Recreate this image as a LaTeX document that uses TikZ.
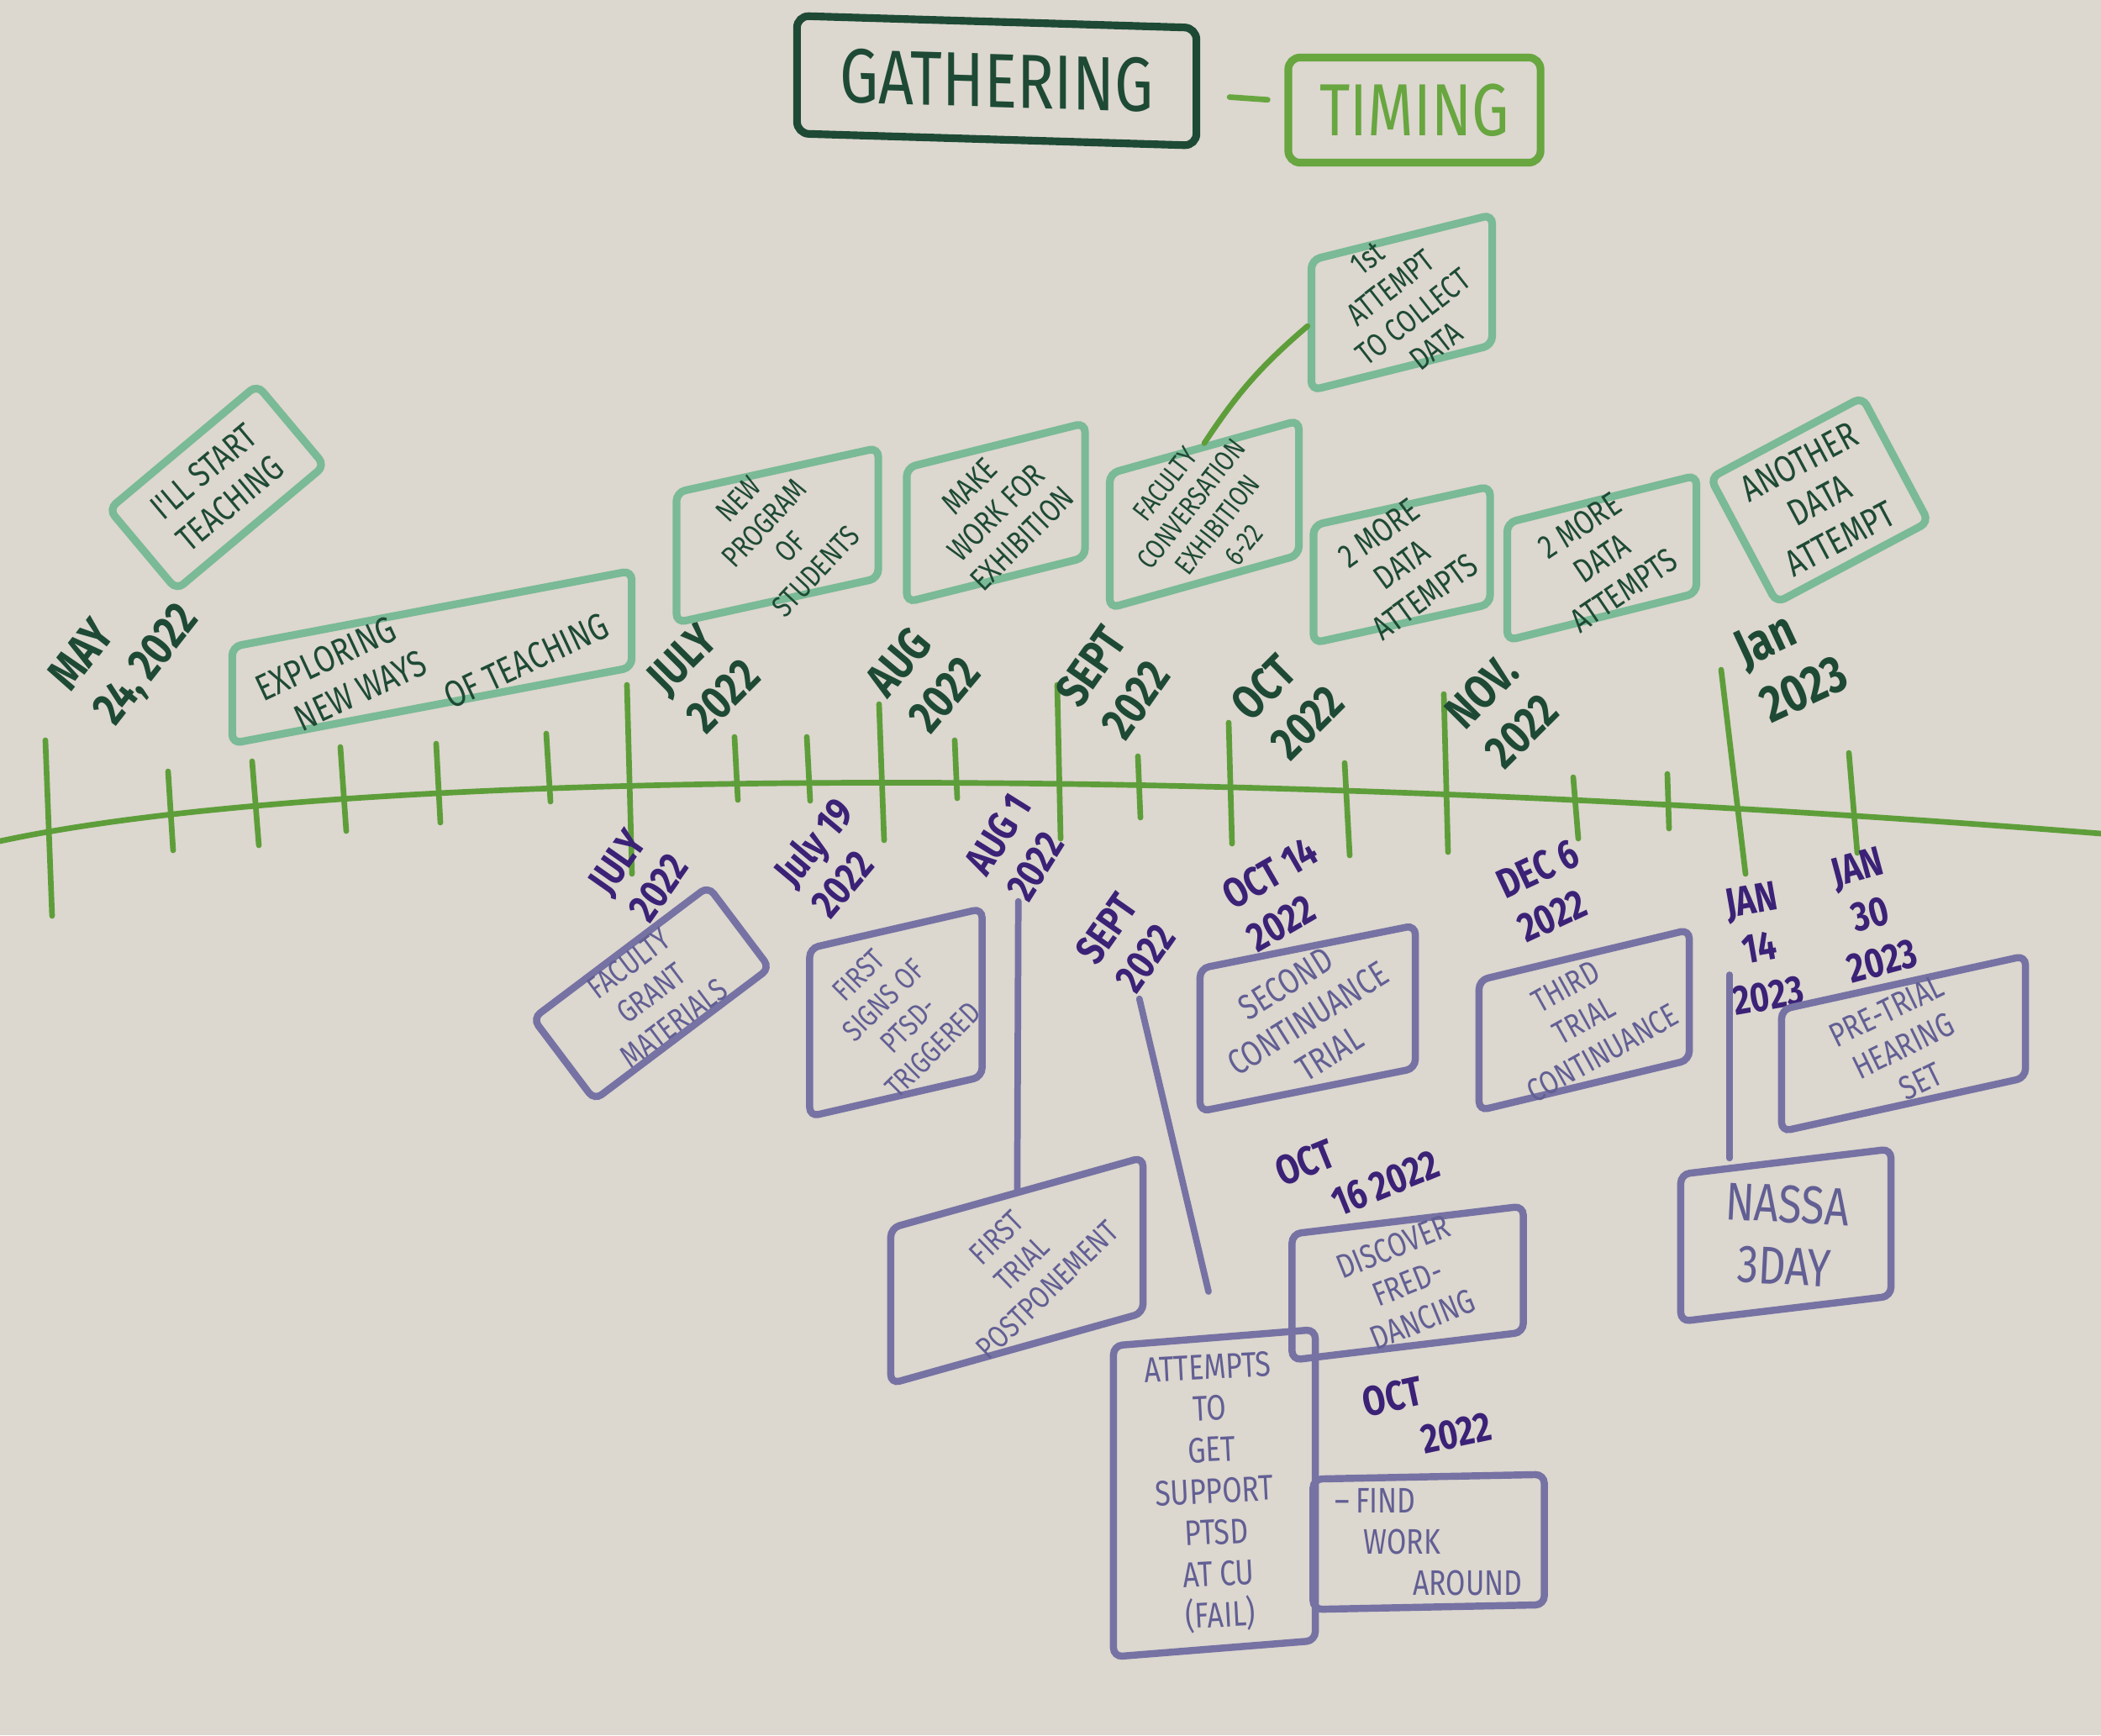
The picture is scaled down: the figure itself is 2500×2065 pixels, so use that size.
\documentclass[tikz,border=0pt]{standalone}
\usepackage{fontspec}
\usepackage{tikz}
\usetikzlibrary{positioning}
\newfontfamily\hand{Fira Sans}[FakeStretch=0.8]
\definecolor{paper}{RGB}{220,215,207}
\definecolor{ink}{RGB}{30,74,53}
\definecolor{mint}{RGB}{122,186,150}
\definecolor{stem}{RGB}{94,158,58}
\definecolor{sprout}{RGB}{104,166,64}
\definecolor{plum}{RGB}{59,34,119}
\definecolor{lilac}{RGB}{118,114,163}
\definecolor{lilacink}{RGB}{98,95,148}
\newcommand{\notefont}{\hand\fontsize{12}{14}\selectfont}
\newcommand{\datefont}{\hand\bfseries\fontsize{16}{19}\selectfont}
\newcommand{\smalldatefont}{\hand\bfseries\fontsize{14}{16.5}\selectfont}
\newcommand{\headfont}{\hand\fontsize{26}{26}\selectfont}
\tikzstyle{titlebox}  = [rectangle, line width=2.6pt, rounded corners=4pt, font=\headfont]
\tikzstyle{mintbox}   = [rectangle, draw=mint, line width=2.6pt, rounded corners=3pt]
\tikzstyle{lilacbox}  = [rectangle, draw=lilac, line width=2.4pt, rounded corners=3pt]
\tikzstyle{mintnote}  = [text=ink, font=\notefont, align=center, inner sep=0pt]
\tikzstyle{lilacnote} = [text=lilacink, font=\notefont, align=center, inner sep=0pt]
\tikzstyle{topdate}   = [text=ink, font=\datefont, align=left, inner sep=1pt]
\tikzstyle{botdate}   = [text=plum, font=\smalldatefont, align=left, inner sep=1pt]
\tikzstyle{tick}      = [draw=stem, line width=1.9pt, line cap=round]
\tikzstyle{mintlink}  = [draw=stem, line width=1.9pt, line cap=round]
\tikzstyle{lilaclink} = [draw=lilac, line width=2.2pt, line cap=round]

\begin{document}
\begin{tikzpicture}[x=0.01cm, y=-0.01cm]

\fill [paper] (0,0) rectangle (2500,2065);
\useasboundingbox (0,0) rectangle (2500,2065);

\node (gather) [titlebox, draw=ink, text=ink, minimum width=4.75cm, minimum height=1.4cm, yslant=-0.03] at (1186,96) {GATHERING};
\node (timing) [titlebox, draw=sprout, text=sprout, minimum width=3cm, minimum height=1.25cm, font=\hand\fontsize{25}{25}\selectfont] at (1683,131) {TIMING};
\draw [tick, draw=sprout, shorten <=0.35cm, shorten >=0.2cm] (gather) -- (timing);

\draw [tick] (0,1001) .. controls (400,915) and (1400,905) .. (2500,992);
\foreach \xa/\ya/\xb/\yb in {54/881/62/1090, 200/918/206/1012, 300/906/308/1006, 405/889/412/989,
    519/885/524/979, 650/873/655/954, 746/815/752/1040, 874/877/878/952, 960/877/964/953,
    1046/838/1052/1000, 1136/881/1139/950, 1258/815/1262/998, 1354/900/1357/973,
    1462/860/1466/1004, 1600/908/1606/1018, 1718/826/1723/1014, 1872/925/1878/998,
    1984/921/1986/986, 2048/797/2077/1040, 2200/896/2210/1015}
  \draw [tick] (\xa,\ya) -- (\xb,\yb);

\node (mayTop)  [topdate, rotate=52] at (150,772)  {MAY\\24,\,2022};
\node (julyTop) [topdate, rotate=45] at (837,805)  {JULY\\2022};
\node (augTop)  [topdate, rotate=50] at (1098,805) {AUG\\2022};
\node (septTop) [topdate, rotate=55] at (1325,812) {SEPT\\2022};
\node (octTop)  [topdate, rotate=45] at (1532,836) {OCT\\2022};
\node (novTop)  [topdate, rotate=45] at (1787,846) {NOV.\\2022};
\node (janTop)  [topdate, rotate=25, scale=1.1] at (2131,787) {Jan\\2023};

\node (teach)      [mintbox, mintnote, rotate=40, minimum width=2.3cm, minimum height=1.25cm] at (258,580) {I'LL START\\TEACHING};
\node (exploreBox) [mintbox, yslant=0.19, minimum width=4.75cm, minimum height=1.15cm] at (514,782) {};
\node (explore)    [mintnote, rotate=25, align=left, scale=1.05] at (exploreBox) {EXPLORING\\\hspace*{0.6em}NEW WAYS\\\hspace*{4.5em}OF TEACHING};
\node (programBox) [mintbox, yslant=0.22, minimum width=2.4cm, minimum height=1.55cm] at (925,637) {};
\node (program)    [mintnote, rotate=47, scale=0.85] at (programBox) {NEW\\PROGRAM\\OF\\STUDENTS};
\node (makeBox)    [mintbox, yslant=0.25, minimum width=2.12cm, minimum height=1.6cm] at (1185,610) {};
\node (make)       [mintnote, rotate=45, scale=0.9] at (makeBox) {MAKE\\WORK FOR\\EXHIBITION};
\node (talkBox)    [mintbox, yslant=0.28, minimum width=2.25cm, minimum height=1.6cm] at (1433,612) {};
\node (talk)       [mintnote, rotate=52, scale=0.8] at (talkBox) {FACULTY\\CONVERSATION\\EXHIBITION\\6-22};
\node (collectBox) [mintbox, yslant=0.25, minimum width=2.15cm, minimum height=1.55cm] at (1668,360) {};
\node (collect)    [mintnote, rotate=38, scale=0.9] at (collectBox) {1st\\ATTEMPT\\TO COLLECT\\DATA};
\node (moreBox)    [mintbox, yslant=0.22, minimum width=2.1cm, minimum height=1.4cm] at (1668,672) {};
\node (more)       [mintnote, rotate=36, scale=0.95] at (moreBox) {2 MORE\\DATA\\ATTEMPTS};
\node (moreBoxB)   [mintbox, yslant=0.25, minimum width=2.25cm, minimum height=1.4cm] at (1906,664) {};
\node (moreB)      [mintnote, rotate=34, scale=0.95] at (moreBoxB) {2 MORE\\DATA\\ATTEMPTS};
\node (another)    [mintbox, mintnote, rotate=28, minimum width=1.95cm, minimum height=1.6cm, scale=1.05] at (2165,595) {ANOTHER\\DATA\\ATTEMPT};

\node (julyBot) [botdate, rotate=55] at (760,1040)  {JULY\\2022};
\node (jul19)   [botdate, rotate=50] at (990,1020)  {July 19\\2022};
\node (aug1)    [botdate, rotate=58] at (1212,1008) {AUG 1\\2022};
\node (septBot) [botdate, rotate=55] at (1340,1122) {SEPT\\2022};
\node (oct14)   [botdate, rotate=30] at (1526,1064) {OCT 14\\2022};
\node (dec6)    [botdate, rotate=25] at (1842,1060) {DEC 6\\2022};
\node (jan14)   [botdate, rotate=10, align=center] at (2094,1128) {JAN\\14\\2023};
\node (jan30)   [botdate, rotate=15, align=center] at (2225,1088) {JAN\\30\\2023};
\node (oct16)   [botdate, rotate=22] at (1615,1390) {OCT\\\hspace*{1em}16\,2022};
\node (octLow)  [botdate, rotate=12] at (1698,1683) {OCT\\\hspace*{1.2em}2022};

\node (grant)      [lilacbox, lilacnote, rotate=37, minimum width=2.9cm, minimum height=1.35cm, scale=0.9] at (775,1182) {FACULTY\\GRANT\\MATERIALS};
\node (ptsdBox)    [lilacbox, yslant=0.23, minimum width=2.05cm, minimum height=2cm] at (1066,1205) {};
\node (ptsd)       [lilacnote, rotate=45, scale=0.85] at (ptsdBox) {FIRST\\SIGNS OF\\PTSD-\\TRIGGERED};
\node (delayBox)   [lilacbox, yslant=0.28, minimum width=3cm, minimum height=1.85cm] at (1210,1512) {};
\node (delay)      [lilacnote, rotate=44, scale=0.88] at ([shift={(6,-8)}]delayBox.center) {FIRST\\TRIAL\\POSTPONEMENT};
\node (secondBox)  [lilacbox, yslant=0.2, minimum width=2.56cm, minimum height=1.7cm] at (1556,1212) {};
\node (second)     [lilacnote, rotate=32] at (secondBox) {SECOND\\CONTINUANCE\\TRIAL};
\node (thirdBox)   [lilacbox, yslant=0.24, minimum width=2.5cm, minimum height=1.55cm] at (1885,1214) {};
\node (third)      [lilacnote, rotate=29, scale=0.92] at (thirdBox) {THIRD\\TRIAL\\CONTINUANCE};
\node (hearingBox) [lilacbox, yslant=0.22, minimum width=2.9cm, minimum height=1.45cm] at (2265,1242) {};
\node (hearing)    [lilacnote, rotate=26, scale=0.95] at ([shift={(0,3)}]hearingBox.center) {PRE-TRIAL\\HEARING\\SET};
\node (nassaBox)   [lilacbox, yslant=0.12, minimum width=2.5cm, minimum height=1.75cm] at (2125,1470) {};
\node (nassa)      [lilacnote, rotate=-3, scale=1.5] at (nassaBox) {NASSA\\3DAY};
\node (danceBox)   [lilacbox, yslant=0.12, minimum width=2.75cm, minimum height=1.5cm] at (1675,1527) {};
\node (dance)      [lilacnote, rotate=22, scale=0.95] at (danceBox) {DISCOVER\\FRED-\\DANCING};
\node (supportBox) [lilacbox, yslant=0.08, minimum width=2.4cm, minimum height=3.7cm] at (1445,1777) {};
\node (support)    [lilacnote, rotate=3] at (supportBox) {ATTEMPTS\\TO\\GET\\SUPPORT\\PTSD\\AT CU\\(FAIL)};
\node (workBox)    [lilacbox, yslant=0.02, minimum width=2.75cm, minimum height=1.55cm] at (1700,1835) {};
\node (work)       [lilacnote, align=left] at (workBox) {\textendash\,FIND\\\hspace*{0.8em}WORK\\\hspace*{2.2em}AROUND};

\coordinate (septFoot)  at (1438,1537);
\coordinate (jan14Foot) at (2058,1160);

\draw [mintlink]  (talkBox.north) to[bend left=8] (collectBox.west);
\draw [lilaclink] (aug1)      -- (delayBox);
\draw [lilaclink] (septBot)   -- (septFoot);
\draw [lilaclink] (jan14Foot) -- (jan14Foot |- nassaBox.north);

\end{tikzpicture}
\end{document}
